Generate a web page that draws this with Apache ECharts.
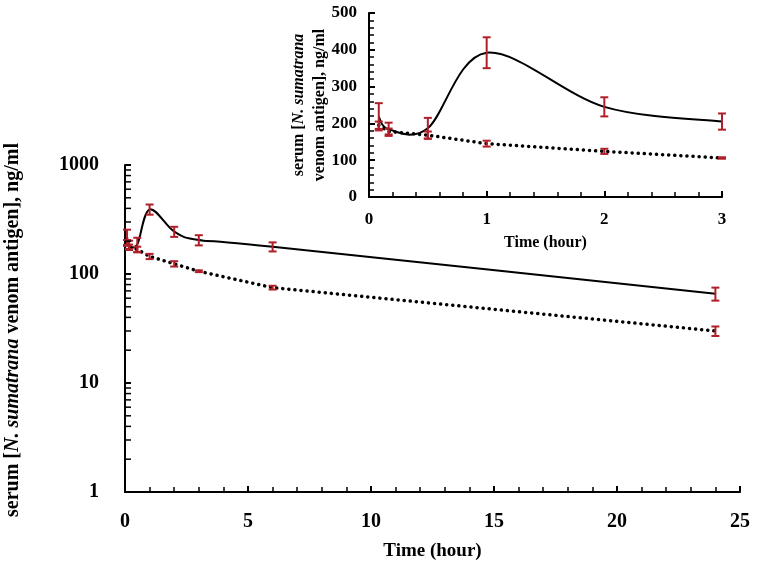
<!DOCTYPE html>
<html>
<head>
<meta charset="utf-8">
<script src="https://cdn.jsdelivr.net/npm/echarts@6/dist/echarts.min.js"></script>
<style>
html,body{margin:0;padding:0;background:#fff;}
#c{width:759px;height:574px;}
</style>
</head>
<body>
<div id="c"></div>
<script>
// Data
var times      = [0.083, 0.167, 0.5, 1, 2, 3, 6, 24];
var solidVals  = [218, 184, 187, 392, 245, 205, 178, 66];
var solidErr   = [37, 18, 28, 42, 26, 22, 17, 9];
var dottedVals = [195, 178, 168, 145, 124, 106, 75, 30];
var dottedErr  = [10, 8, 10, 8, 7, 2, 3, 3];
var mainXTicks = [0, 5, 10, 15, 20, 25];
var mainYTicks = [1, 10, 100, 1000];
var mainYMinorTicks = [2, 3, 4, 5, 6, 7, 8, 9, 20, 30, 40, 50, 60, 70, 80, 90, 200, 300, 400, 500, 600, 700, 800, 900];
var insetXTicks = [0, 1, 2, 3];
var insetYTicks = [0, 100, 200, 300, 400, 500];

var FONT = '"Liberation Serif","Times New Roman",serif';
var ERR_COLOR = '#b0202a';

function pairs(vals, maxT) {
  var out = [];
  for (var i = 0; i < times.length; i++) if (times[i] <= maxT) out.push([times[i], vals[i]]);
  return out;
}
function errData(vals, errs, maxT) {
  var out = [];
  for (var i = 0; i < times.length; i++) if (times[i] <= maxT) out.push([times[i], vals[i] - errs[i], vals[i] + errs[i]]);
  return out;
}
function errRender(params, api) {
  var x = api.value(0);
  var lo = api.coord([x, api.value(1)]);
  var hi = api.coord([x, api.value(2)]);
  var w = 4;
  var st = {stroke: ERR_COLOR, lineWidth: 2, fill: null};
  return {
    type: 'group',
    children: [
      {type: 'line', shape: {x1: lo[0], y1: lo[1], x2: hi[0], y2: hi[1]}, style: st},
      {type: 'line', shape: {x1: lo[0] - w, y1: lo[1], x2: lo[0] + w, y2: lo[1]}, style: st},
      {type: 'line', shape: {x1: hi[0] - w, y1: hi[1], x2: hi[0] + w, y2: hi[1]}, style: st}
    ]
  };
}
// Excel-like smoothed line (Catmull-Rom bezier) through the data points, in pixel space
function smoothRender(maxT) {
  return function (params, api) {
    if (params.dataIndex !== 0) return null;
    var pts = [];
    for (var i = 0; i < times.length; i++) if (times[i] <= maxT) pts.push(api.coord([times[i], solidVals[i]]));
    var d = 'M' + pts[0][0] + ',' + pts[0][1];
    for (var j = 0; j < pts.length - 1; j++) {
      var p0 = pts[j > 0 ? j - 1 : j], p1 = pts[j], p2 = pts[j + 1], p3 = pts[j + 2 < pts.length ? j + 2 : j + 1];
      var c1x = p1[0] + (p2[0] - p0[0]) / 6, c1y = p1[1] + (p2[1] - p0[1]) / 6;
      var c2x = p2[0] - (p3[0] - p1[0]) / 6, c2y = p2[1] - (p3[1] - p1[1]) / 6;
      d += ' C' + c1x + ',' + c1y + ' ' + c2x + ',' + c2y + ' ' + p2[0] + ',' + p2[1];
    }
    return {type: 'path', shape: {pathData: d}, style: {stroke: '#000', lineWidth: 2, fill: null}};
  };
}
function logMinorRender(params, api) {
  var p = api.coord([api.value(0), api.value(1)]);
  return {type: 'line', shape: {x1: p[0], y1: p[1], x2: p[0] + 6, y2: p[1]}, style: {stroke: '#000', lineWidth: 1.5}};
}
function axisCommon(fontSize) {
  return {
    axisLine: {show: true, lineStyle: {color: '#000', width: 2}},
    axisTick: {show: true, inside: true, length: 6, lineStyle: {color: '#000', width: 2}},
    minorTick: {show: true, length: 5, lineStyle: {color: '#000', width: 1.5}},
    splitLine: {show: false},
    axisLabel: {color: '#000', fontFamily: FONT, fontWeight: 'bold', fontSize: fontSize},
    nameTextStyle: {color: '#000', fontFamily: FONT, fontWeight: 'bold'}
  };
}
function merge(a, b) { for (var k in b) a[k] = b[k]; return a; }

var chart = echarts.init(document.getElementById('c'), null, {renderer: 'canvas'});

var xMain = merge(axisCommon(20), {
  type: 'value', gridIndex: 0, min: mainXTicks[0], max: mainXTicks[mainXTicks.length - 1], interval: 5,
  name: 'Time (hour)', nameLocation: 'middle', nameGap: 50
});
xMain.minorTick.splitNumber = 5;
xMain.axisLabel.margin = 20;
xMain.nameTextStyle.fontSize = 19;

var yMain = merge(axisCommon(20), {
  type: 'log', logBase: 10, gridIndex: 0, min: mainYTicks[0], max: mainYTicks[mainYTicks.length - 1]
});
yMain.minorTick = {show: false};
yMain.axisLabel.margin = 26;
yMain.axisLabel.formatter = function (v) { return String(v); };

var xIn = merge(axisCommon(17), {
  type: 'value', gridIndex: 1, min: insetXTicks[0], max: insetXTicks[insetXTicks.length - 1], interval: 1,
  name: 'Time (hour)', nameLocation: 'middle', nameGap: 38
});
xIn.minorTick.splitNumber = 5;
xIn.axisLabel.margin = 14;
xIn.nameTextStyle.fontSize = 16;

var yIn = merge(axisCommon(17), {
  type: 'value', gridIndex: 1, min: insetYTicks[0], max: insetYTicks[insetYTicks.length - 1], interval: 100
});
yIn.minorTick.splitNumber = 5;
yIn.axisLabel.margin = 12;

var richTitle = {
  b: {fontFamily: FONT, fontWeight: 'bold', fontSize: 20, fill: '#000'},
  i: {fontFamily: FONT, fontWeight: 'bold', fontStyle: 'italic', fontSize: 20, fill: '#000'}
};
var richInset = {
  b: {fontFamily: FONT, fontWeight: 'bold', fontSize: 16, fill: '#000', lineHeight: 21},
  i: {fontFamily: FONT, fontWeight: 'bold', fontStyle: 'italic', fontSize: 16, fill: '#000', lineHeight: 21}
};

chart.setOption({
  backgroundColor: '#fff',
  animation: false,
  grid: [
    {left: 125, top: 165, right: 19, bottom: 82},
    {left: 369, top: 13, right: 37, bottom: 377}
  ],
  xAxis: [xMain, xIn],
  yAxis: [yMain, yIn],
  graphic: [
    {type: 'text', x: 13, y: 330, rotation: Math.PI / 2,
     style: {text: '{b|serum [}{i|N. sumatrana}{b| venom antigen], ng/ml}', rich: richTitle, align: 'center', verticalAlign: 'middle'}},
    {type: 'text', x: 309, y: 105, rotation: Math.PI / 2,
     style: {text: '{b|serum [}{i|N. sumatrana}\n{b|venom antigen], ng/ml}', rich: richInset, align: 'center', verticalAlign: 'middle'}}
  ],
  series: [
    {type: 'custom', xAxisIndex: 0, yAxisIndex: 0, data: mainYMinorTicks.map(function (v) { return [mainXTicks[0], v]; }),
     renderItem: logMinorRender, z: 5, silent: true, clip: false},
    {type: 'custom', xAxisIndex: 0, yAxisIndex: 0, data: pairs(solidVals, 99), renderItem: smoothRender(99), z: 2},
    {type: 'line', xAxisIndex: 0, yAxisIndex: 0, data: pairs(dottedVals, 99), smooth: false,
     showSymbol: false, lineStyle: {color: '#000', width: 3.5, type: [0.1, 6], cap: 'round'}, z: 2},
    {type: 'custom', xAxisIndex: 0, yAxisIndex: 0, data: errData(solidVals, solidErr, 99), renderItem: errRender, z: 3},
    {type: 'custom', xAxisIndex: 0, yAxisIndex: 0, data: errData(dottedVals, dottedErr, 99), renderItem: errRender, z: 3},
    {type: 'custom', xAxisIndex: 1, yAxisIndex: 1, data: pairs(solidVals, 3), renderItem: smoothRender(3), z: 2},
    {type: 'line', xAxisIndex: 1, yAxisIndex: 1, data: pairs(dottedVals, 3), smooth: false,
     showSymbol: false, lineStyle: {color: '#000', width: 3.5, type: [0.1, 6], cap: 'round'}, z: 2},
    {type: 'custom', xAxisIndex: 1, yAxisIndex: 1, data: errData(solidVals, solidErr, 3), renderItem: errRender, z: 3},
    {type: 'custom', xAxisIndex: 1, yAxisIndex: 1, data: errData(dottedVals, dottedErr, 3), renderItem: errRender, z: 3}
  ]
});
</script>
</body>
</html>
